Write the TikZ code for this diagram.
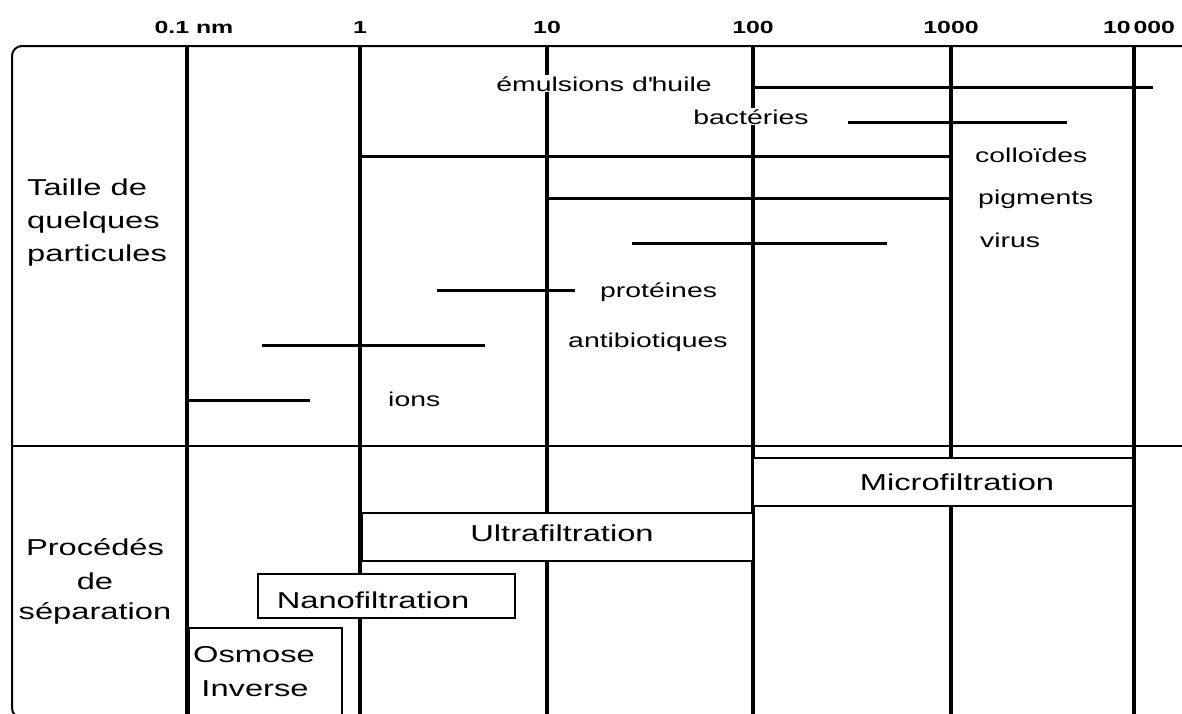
\documentclass[tikz,border=0pt]{standalone}
\usepackage{fontspec}
\setmainfont{Liberation Sans}[FakeStretch=1.42]
\usepackage{tikz}

\tikzset{
  gridline/.style={line width=3.5pt},
  sizebar/.style={line width=3pt},
  procbox/.style={draw,line width=2pt,fill=white},
  partlabel/.style={font=\fontsize{20}{24}\selectfont,fill=white,inner sep=1pt,anchor=base west},
  bigtext/.style={font=\fontsize{23}{28}\selectfont,inner sep=0pt,anchor=base},
  scalelabel/.style={font=\bfseries\fontsize{17.5}{20}\selectfont,inner sep=0pt,anchor=base},
}

\begin{document}
\begin{tikzpicture}[x=1pt,y=-1pt]
\useasboundingbox (0,0) rectangle (1182,713);
\begin{scope}
\clip (0,0) rectangle (1182,713);
\draw[line width=2pt,rounded corners=10pt] (1190,46) -- (12,46) -- (12,718) -- (80,718);
\draw[line width=2pt] (12,446) -- (1190,446);
\foreach \x in {187,360,547,753,951,1134}
  \draw[gridline] (\x,46) -- (\x,720);

\node[scalelabel] (s01) at (194,33) {0.1 nm};
\node[scalelabel] (s1) at (360,33) {1};
\node[scalelabel] (s10) at (547,33) {10};
\node[scalelabel] (s100) at (753,33) {100};
\node[scalelabel] (s1000) at (951,33) {1000};
\node[scalelabel] (s10000) at (1139,33) {10\,000};

\node[bigtext,anchor=base west] (taille) at (27,195) {Taille de};
\node[bigtext,anchor=base west] (quelques) at (27,228) {quelques};
\node[bigtext,anchor=base west] (particules) at (27,261) {particules};

\draw[sizebar] (753,87) -- (1153,87);
\node[partlabel,anchor=base] (emulsions) at (604,91) {émulsions d\textquotesingle huile};
\draw[sizebar] (848,122) -- (1067,122);
\node[partlabel,anchor=base] (bacteries) at (751,124) {bactéries};
\draw[sizebar] (360,156) -- (951,156);
\node[partlabel] (colloides) at (974,162) {colloïdes};
\draw[sizebar] (547,198) -- (951,198);
\node[partlabel] (pigments) at (977,204) {pigments};
\draw[sizebar] (632,243) -- (887,243);
\node[partlabel] (virus) at (979,247) {virus};
\draw[sizebar] (437,290) -- (575,290);
\node[partlabel] (proteines) at (599,297) {protéines};
\draw[sizebar] (262,345) -- (485,345);
\node[partlabel] (antibiotiques) at (567,347) {antibiotiques};
\draw[sizebar] (187,400) -- (310,400);
\node[partlabel] (ions) at (387,406) {ions};

\node[bigtext] (procedes) at (95,555) {Procédés};
\node[bigtext] (de) at (95,589) {de};
\node[bigtext] (separation) at (95,619) {séparation};

\draw[procbox] (753,458) rectangle (1133,506);
\node[bigtext] (micro) at (957,490) {Microfiltration};
\draw[procbox] (362,513) rectangle (753,561);
\node[bigtext] (ultra) at (562,541) {Ultrafiltration};
\draw[procbox] (258,574) rectangle (515,618);
\node[bigtext] (nano) at (373,608) {Nanofiltration};
\draw[procbox] (189,628) rectangle (342,730);
\node[bigtext] (osmose) at (254,662) {Osmose};
\node[bigtext] (inverse) at (255,696) {Inverse};
\end{scope}
\end{tikzpicture}
\end{document}
